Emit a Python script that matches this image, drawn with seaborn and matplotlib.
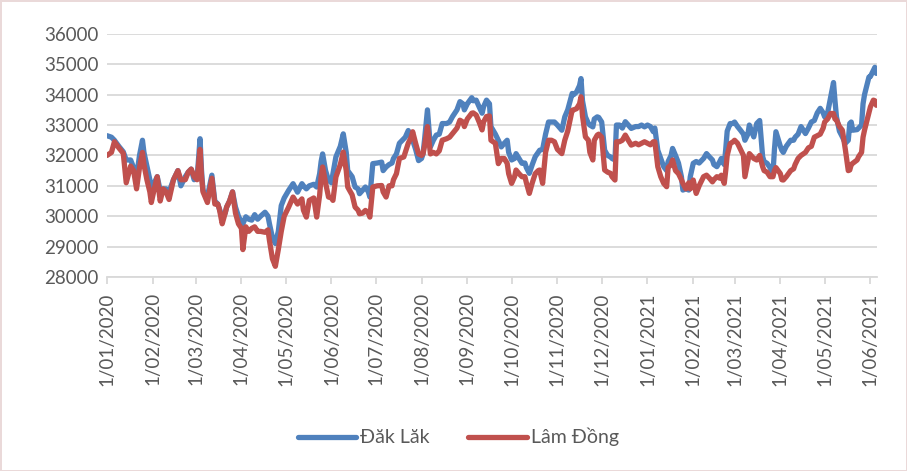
import pandas as pd
import matplotlib.pyplot as plt
import matplotlib.dates as mdates
import seaborn as sns

# days since 1/01/2020 and prices
days = [0, 3, 5, 8, 11, 13, 16, 18, 20, 22, 24, 25, 27, 29, 30, 32, 34, 36, 38, 40,
        42, 45, 48, 50, 53, 55, 57, 59, 61, 63, 64, 65, 68, 71, 73, 75, 76, 78, 80, 81,
        83, 85, 87, 89, 91, 92, 94, 96, 98, 100, 102, 104, 107, 109, 110, 112, 114, 116, 118, 120,
        123, 126, 129, 132, 133, 135, 137, 140, 142, 144, 145, 146, 148, 150, 152, 153, 155, 158, 160, 162,
        163, 166, 168, 170, 171, 173, 175, 177, 178, 180, 183, 186, 187, 189, 191, 193, 194, 196, 198, 201,
        202, 204, 206, 207, 209, 211, 213, 214, 215, 217, 219, 221, 223, 225, 227, 230, 232, 234, 237, 239,
        241, 242, 244, 247, 248, 250, 252, 254, 255, 257, 259, 260, 263, 265, 267, 269, 271, 272, 274, 276,
        277, 279, 281, 283, 284, 286, 288, 290, 292, 293, 295, 297, 299, 301, 303, 305, 308, 310, 312, 315,
        316, 318, 320, 321, 322, 324, 326, 327, 329, 330, 332, 333, 335, 337, 339, 341, 342, 344, 345, 347,
        349, 351, 353, 355, 358, 360, 362, 364, 366, 368, 370, 371, 373, 375, 377, 379, 380, 382, 383, 385,
        387, 389, 390, 392, 394, 395, 397, 399, 401, 403, 404, 406, 408, 410, 411, 413, 415, 416, 418, 419,
        420, 422, 424, 425, 427, 429, 431, 432, 434, 435, 438, 440, 442, 444, 445, 447, 449, 451, 452, 453,
        456, 457, 458, 460, 463, 465, 466, 468, 470, 473, 475, 477, 479, 481, 483, 485, 486, 488, 490, 492,
        493, 494, 496, 498, 500, 502, 503, 504, 505, 508, 509, 511, 512, 513, 516, 517, 519, 520, 521]

dak_lak = [32650, 32600, 32500, 32300, 32120, 31850, 31850, 31600, 31300, 32000, 32500, 32100, 31650, 31200, 30950, 31100, 31300, 30850, 30900, 30900,
           30800, 31200, 31500, 31000, 31300, 31450, 31550, 31200, 31250, 32550, 31500, 30850, 30650, 31350, 30500, 30400, 30250, 29980, 30100, 30300,
           30500, 30800, 30300, 30000, 29800, 29750, 29980, 29900, 29870, 30050, 29900, 30000, 30130, 30000, 29750, 29300, 29100, 29500, 30350, 30600,
           30850, 31070, 30790, 31070, 31000, 30900, 31000, 31050, 30960, 31400, 31800, 32050, 31500, 31180, 31100, 31400, 31950, 32300, 32710, 32100,
           31500, 31300, 30960, 30900, 30740, 30850, 30960, 30800, 30630, 31730, 31750, 31780, 31500, 31620, 31700, 31750, 31900, 32050, 32400, 32550,
           32600, 32820, 32600, 32500, 32200, 31830, 31900, 32050, 32500, 33500, 32280, 32500, 32670, 32700, 33050, 33050, 33100, 33280, 33500, 33770,
           33700, 33500, 33700, 33900, 33800, 33820, 33600, 33390, 33600, 33820, 33700, 32950, 32700, 32500, 32280, 32400, 32500, 32100, 31850, 31900,
           32060, 31900, 31740, 31750, 31600, 31410, 31700, 31960, 32100, 32170, 32200, 32700, 33100, 33100, 33100, 33000, 32830, 33270, 33500, 34040,
           34000, 34090, 34300, 34530, 33800, 33270, 33050, 33000, 32940, 33200, 33270, 33250, 33100, 32170, 32000, 31950, 31900, 31850, 33000, 33000,
           32900, 33110, 33000, 32890, 32950, 32950, 33000, 32940, 33000, 32950, 32780, 32900, 32170, 31900, 31630, 31500, 31800, 32000, 32230, 32000,
           31750, 31300, 30860, 30900, 30860, 31300, 31740, 31800, 31750, 31850, 31900, 32060, 31950, 31850, 31700, 31630, 31800, 31900, 31700, 32200,
           32800, 33050, 33050, 33100, 32950, 32830, 32700, 32500, 32700, 33000, 32610, 33050, 33150, 31960, 31800, 31740, 31600, 31410, 32200, 32780,
           32300, 32170, 32100, 32300, 32500, 32500, 32600, 32700, 32950, 32720, 32900, 33100, 33150, 33400, 33550, 33400, 33270, 33400, 33900, 34400,
           33800, 33270, 32800, 32610, 32400, 32500, 33050, 33100, 32830, 32850, 32900, 33000, 33700, 34000, 34580, 34600, 34800, 34900, 34700]

lam_dong = [32000, 32100, 32450, 32250, 32070, 31100, 31650, 31500, 30900, 31600, 32100, 31700, 31200, 30800, 30450, 30900, 31300, 30500, 30900, 30800,
            30550, 31200, 31500, 31200, 31200, 31450, 31550, 31300, 31200, 32200, 31300, 30800, 30450, 31250, 30400, 30400, 30250, 29750, 30100, 30300,
            30500, 30800, 30100, 29750, 29600, 28900, 29650, 29500, 29600, 29650, 29500, 29500, 29470, 29550, 29200, 28600, 28350, 28900, 29500, 30000,
            30300, 30630, 30400, 30570, 30200, 29970, 30520, 30600, 29970, 30700, 31300, 31620, 31100, 30630, 30600, 30520, 31290, 31700, 32110, 31500,
            30960, 30700, 30300, 30200, 30080, 30100, 30190, 30100, 29970, 30960, 31000, 31010, 30800, 30630, 31000, 31000, 31200, 31400, 31900, 31950,
            32100, 32400, 32600, 32780, 32400, 32050, 32000, 32050, 32300, 32950, 32050, 32100, 32050, 32150, 32500, 32550, 32600, 32720, 32900, 33160,
            33100, 32950, 33200, 33390, 33400, 33330, 33100, 32840, 33100, 33280, 33300, 32500, 32400, 31730, 31900, 31900, 31740, 31400, 31080, 31300,
            31520, 31400, 31300, 31300, 31100, 30750, 31100, 31400, 31500, 31520, 31080, 32100, 32500, 32500, 32450, 32200, 32060, 32500, 32800, 33490,
            33500, 33540, 33700, 33930, 33300, 32610, 32500, 32100, 31850, 32500, 32670, 32700, 32600, 31520, 31450, 31410, 31300, 31190, 32450, 32450,
            32500, 32670, 32500, 32340, 32400, 32350, 32400, 32450, 32400, 32350, 32450, 32450, 31630, 31300, 31080, 30970, 31600, 31700, 31850, 31500,
            31400, 31200, 31080, 30900, 31100, 30900, 31190, 30750, 31000, 31200, 31300, 31350, 31250, 31130, 31200, 31300, 31250, 31350, 31080, 31500,
            32000, 32390, 32450, 32500, 32400, 32200, 32000, 31300, 31800, 32060, 31900, 31850, 32000, 31630, 31500, 31450, 31300, 31300, 31500, 31600,
            31400, 31200, 31190, 31300, 31500, 31560, 31700, 31900, 32000, 32100, 32250, 32300, 32600, 32650, 32700, 32900, 33100, 33200, 33380, 33380,
            33200, 33170, 32950, 32830, 32200, 31500, 31520, 31700, 31740, 31850, 31960, 32100, 32600, 32830, 33400, 33600, 33820, 33800, 33650]

series_names = ["Đăk Lăk", "Lâm Đồng"]
colors = ["#4F81BD", "#C0504D"]

dates = pd.Timestamp("2020-01-01") + pd.to_timedelta(days, unit="D")
df = pd.DataFrame({"Date": list(dates) * 2,
                   "Price": dak_lak + lam_dong,
                   "Region": [series_names[0]] * len(days) + [series_names[1]] * len(days)})

sns.set_style("white")
plt.rcParams["font.family"] = ["Lato", "DejaVu Sans"]

fig = plt.figure(figsize=(9.07, 4.71), dpi=100)
fig.patch.set_edgecolor("#ead9d9")
fig.patch.set_linewidth(2)
ax = fig.add_axes([0.118, 0.412, 0.849, 0.516])

sns.lineplot(data=df, x="Date", y="Price", hue="Region", palette=colors,
             linewidth=3.8, ax=ax, legend=False)
for line in ax.lines:
    line.set_solid_joinstyle("round")
    line.set_solid_capstyle("round")

ax.set_ylim(28000, 36000)
ax.set_yticks(range(28000, 36001, 1000))
ax.set_xlim(pd.Timestamp("2020-01-01"), pd.Timestamp("2020-01-01") + pd.Timedelta(days=521.5))
ax.xaxis.set_major_locator(mdates.MonthLocator())
ax.xaxis.set_major_formatter(mdates.DateFormatter("%-d/%m/%Y"))
ax.grid(axis="y", color="#d9d9d9", linewidth=1.3)
ax.set_axisbelow(True)
for s in ["top", "right", "left"]:
    ax.spines[s].set_visible(False)
ax.spines["bottom"].set_color("#d9d9d9")
ax.spines["bottom"].set_linewidth(1.3)
ax.tick_params(axis="x", rotation=90, length=5, color="#d9d9d9", width=1.3,
               labelsize=13.5, labelcolor="#595959", pad=6, direction="out", bottom=True)
ax.tick_params(axis="y", length=0, labelsize=13.5, labelcolor="#595959", pad=6)
ax.set_xlabel("")
ax.set_ylabel("")

handles = [plt.Line2D([], [], color=c, linewidth=3.8, solid_capstyle="round") for c in colors]
fig.legend(handles, series_names, loc="center", bbox_to_anchor=(0.505, 0.072), ncol=2,
           frameon=False, fontsize=14, handlelength=3.0, handletextpad=0.2,
           columnspacing=2.0, labelcolor="#595959")

fig.savefig("out.png", dpi=100, edgecolor=fig.get_edgecolor())
